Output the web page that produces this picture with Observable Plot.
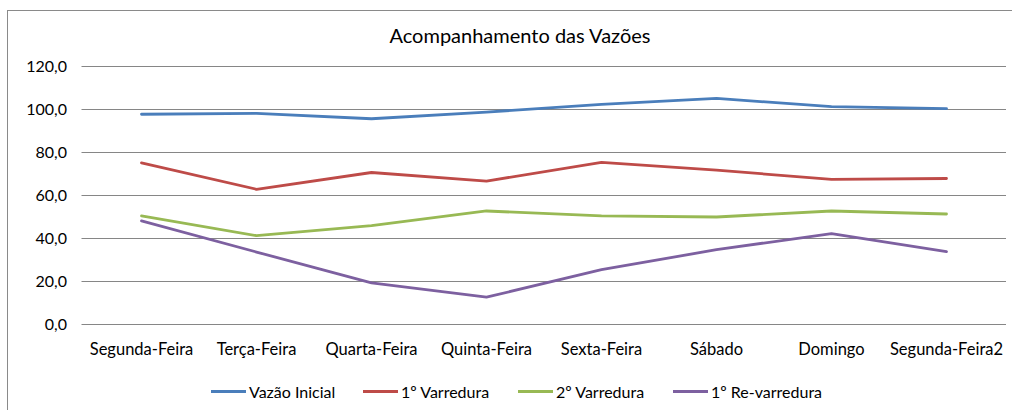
<!DOCTYPE html>
<html>
<head>
<meta charset="utf-8">
<script src="https://cdn.jsdelivr.net/npm/d3@7"></script>
<script src="https://cdn.jsdelivr.net/npm/@observablehq/plot@0.6"></script>
<style>
  html, body { margin: 0; padding: 0; background: #fff; }
  #wrap { position: relative; width: 1012px; height: 410px; overflow: hidden; font-family: Lato, "Open Sans", sans-serif; }
  #frame { position: absolute; left: 7px; top: 10px; width: 1100px; height: 500px; border: 1px solid #8a8a8a; box-sizing: border-box; }
  #title { position: absolute; top: 23px; left: 0; width: 1040px; text-align: center; font-size: 20px; color: #000; }
  #chart { position: absolute; left: 0; top: 0; }
  .item { position: absolute; top: 382px; display: flex; align-items: center; font-size: 16px; color: #000; white-space: nowrap; }
  .sw { width: 35px; height: 3px; margin-right: 3px; }
</style>
</head>
<body>
<div id="wrap">
  <div id="frame"></div>
  <div id="chart"></div>
  <div id="title">Acompanhamento das Vazões</div>
  <div id="legend"></div>
</div>
<script>
const days = ["Segunda-Feira", "Terça-Feira", "Quarta-Feira", "Quinta-Feira", "Sexta-Feira", "Sábado", "Domingo", "Segunda-Feira2"];
const vazaoInicial = [97.8, 98.2, 95.7, 98.8, 102.4, 105.2, 101.3, 100.4];
const varredura1 = [75.2, 62.9, 70.7, 66.7, 75.4, 71.8, 67.5, 67.9];
const varredura2 = [50.5, 41.3, 46.0, 52.8, 50.5, 50.0, 52.8, 51.4];
const reVarredura = [48.2, 33.7, 19.4, 12.7, 25.5, 34.8, 42.3, 33.9];
const seriesNames = ["Vazão Inicial", "1º Varredura", "2º Varredura", "1º Re-varredura"];
const seriesColors = ["#4a7ebb", "#be4b48", "#98b954", "#7d60a0"];
const yTicks = [0, 20, 40, 60, 80, 100, 120];

const allSeries = [vazaoInicial, varredura1, varredura2, reVarredura];
const rows = [];
allSeries.forEach((vals, si) => vals.forEach((v, i) => rows.push({series: seriesNames[si], day: days[i], value: v})));

const fmt = d => d.toFixed(1).replace(".", ",");

const chart = Plot.plot({
  width: 1012,
  height: 370,
  marginTop: 66,
  marginBottom: 46,
  marginLeft: 81.5,
  marginRight: 6,
  style: {fontFamily: "Lato, 'Open Sans', sans-serif", fontSize: "16px", color: "#000", background: "transparent", overflow: "visible"},
  x: {type: "point", domain: days, padding: 0.5, label: null},
  y: {domain: [0, 120], label: null},
  color: {domain: seriesNames, range: seriesColors},
  marks: [
    Plot.ruleY(yTicks, {stroke: "#868686", strokeWidth: 1}),
    Plot.axisY({ticks: yTicks, tickSize: 0, tickPadding: 15, tickFormat: fmt, fontSize: 16, label: null}),
    Plot.axisX({tickSize: 0, tickPadding: 19, fontSize: 16.5, label: null}),
    Plot.line(rows, {x: "day", y: "value", z: "series", stroke: "series", strokeWidth: 2.8, curve: "linear"})
  ]
});
document.getElementById("chart").appendChild(chart);

const legend = document.getElementById("legend");
const legendLeft = [211, 363, 518, 673];
seriesNames.forEach((name, i) => {
  const it = document.createElement("div");
  it.className = "item";
  it.style.left = legendLeft[i] + "px";
  const sw = document.createElement("div");
  sw.className = "sw";
  sw.style.background = seriesColors[i];
  const lb = document.createElement("span");
  lb.textContent = name;
  it.appendChild(sw);
  it.appendChild(lb);
  legend.appendChild(it);
});
</script>
</body>
</html>
